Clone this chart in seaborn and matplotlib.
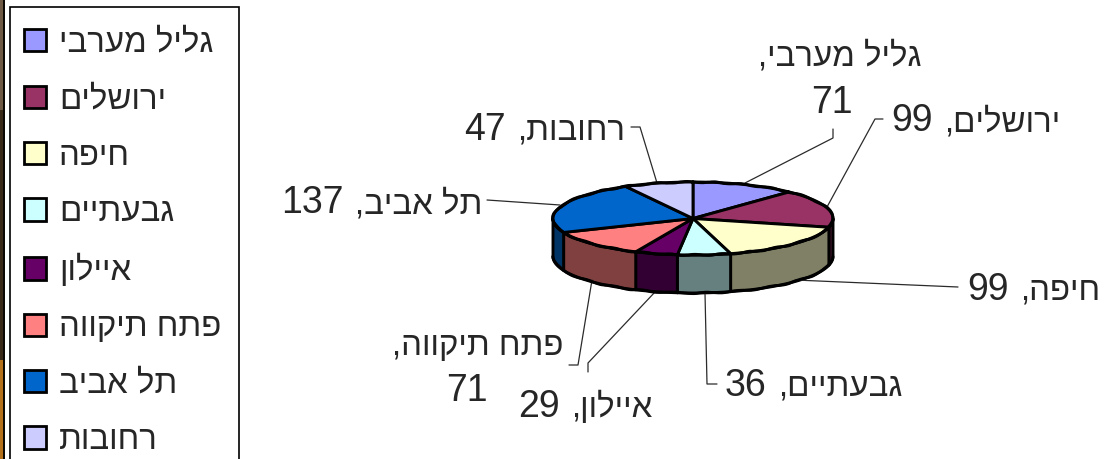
import numpy as np
import seaborn as sns
import matplotlib.pyplot as plt
from matplotlib.patches import Patch, Polygon, Rectangle

CITIES = ["גליל מערבי", "ירושלים", "חיפה", "גבעתיים",
          "איילון", "פתח תיקווה", "תל אביב", "רחובות"]
VALUES = [71, 99, 99, 36, 29, 71, 137, 47]
COLORS = ["#9999FF", "#993366", "#FFFFCC", "#CCFFFF",
          "#660066", "#FF8080", "#0066CC", "#CCCCFF"]

# pie geometry in image pixels
CX, CY = 693, 218.5
RX, RY = 140, 36.5
DEPTH = 38
EDGE_W = 2.1

# right edge and baseline of each label, second pair is the wrapped number
LABEL_POS = [(922, 65), (1060, 131), (1100, 300), (902, 396),
             (652, 417), (563, 355), (482, 213), (625, 140)]
WRAPPED = {0: (853, 113), 5: (488, 401)}
LEADERS = [[(745, 183), (833, 138), (833, 129)],
           [(827, 207), (875, 119), (883, 119)],
           [(795, 280), (958, 287)],
           [(705, 293), (707, 384), (717, 384)],
           [(655, 292), (588, 363), (588, 372)],
           [(592, 280), (578, 365), (569, 365)],
           [(560, 205), (487, 200)],
           [(657, 183), (640, 127), (631, 127)]]


def visual(text):
    # matplotlib has no bidi layout, hebrew has to go in drawn order
    return text[::-1]


def arc(start, end, drop=0.0):
    t = np.radians(np.linspace(start, end, 80))
    return np.column_stack([CX + RX * np.sin(t), CY + drop - RY * np.cos(t)])


sns.set_theme(style="white")
plt.rcParams["font.family"] = ["Liberation Sans", "DejaVu Sans"]

fig = plt.figure(figsize=(11.05, 4.59), dpi=100)
ax = fig.add_axes([0, 0, 1, 1])
ax.set_xlim(0, 1105)
ax.set_ylim(459, 0)
ax.axis("off")

# strip of the slide background on the left edge
ax.add_patch(Rectangle((0, 0), 2.5, 110, color="#6e5a44", lw=0))
ax.add_patch(Rectangle((0, 110), 2.5, 250, color="#3a2a18", lw=0))
ax.add_patch(Rectangle((0, 360), 2.5, 99, color="#b5701c", lw=0))
ax.add_patch(Rectangle((2.5, 0), 2, 459, color="#0c0804", lw=0))

palette = sns.color_palette(COLORS)
edges = np.concatenate([[0], np.cumsum(VALUES)]) / sum(VALUES) * 360

# side wall first, only the front half of the rim shows
for i, col in enumerate(palette):
    lo, hi = max(edges[i], 90), min(edges[i + 1], 270)
    if lo >= hi:
        continue
    top = arc(lo, hi)
    bottom = arc(hi, lo, DEPTH)
    dark = tuple(c * 0.5 for c in col)
    ax.add_patch(Polygon(np.vstack([top, bottom]), closed=True, fc=dark,
                         ec="black", lw=EDGE_W, joinstyle="round"))

for i, col in enumerate(palette):
    pts = np.vstack([[(CX, CY)], arc(edges[i], edges[i + 1])])
    ax.add_patch(Polygon(pts, closed=True, fc=col, ec="black", lw=EDGE_W,
                         joinstyle="round"))

# the rim is a bit ragged in the original
for rim in [arc(0, 360), arc(90, 270, DEPTH)]:
    line, = ax.plot(rim[:, 0], rim[:, 1], color="black", lw=EDGE_W)
    line.set_sketch_params(scale=0.6, length=30, randomness=2)

for line in LEADERS:
    xy = np.array(line)
    ax.plot(xy[:, 0], xy[:, 1], color="#2b2b2b", lw=0.9, zorder=1)

NAME_SIZE = 23.8
NUM_SIZE = 27
renderer = fig.canvas.get_renderer()
for i, (name, val) in enumerate(zip(CITIES, VALUES)):
    x, y = LABEL_POS[i]
    label = ax.text(x, y, "," + visual(name), ha="right", va="baseline",
                    fontsize=NAME_SIZE)
    if i in WRAPPED:
        nx, ny = WRAPPED[i]
    else:
        # axes span the figure, so one data unit is one pixel
        nx = label.get_window_extent(renderer).x0 - 11
        ny = y
    ax.text(nx, ny, str(val), ha="right", va="baseline", fontsize=NUM_SIZE)

# legend box runs off the bottom of the picture
ax.add_patch(Rectangle((10, 7), 229, 470, fc="white", ec="black", lw=1.2))
handles = [Patch(fc=c, ec="black", lw=2) for c in palette]
ax.legend(handles, [visual(c) for c in CITIES], loc="upper left",
          bbox_to_anchor=(9 / 1105, 1 - 13 / 459), fontsize=23.8,
          frameon=False, handlelength=0.667, handleheight=0.667,
          handletextpad=0.39, labelspacing=0.77, borderpad=0.45,
          borderaxespad=0)

fig.savefig("out.png", dpi=100)
